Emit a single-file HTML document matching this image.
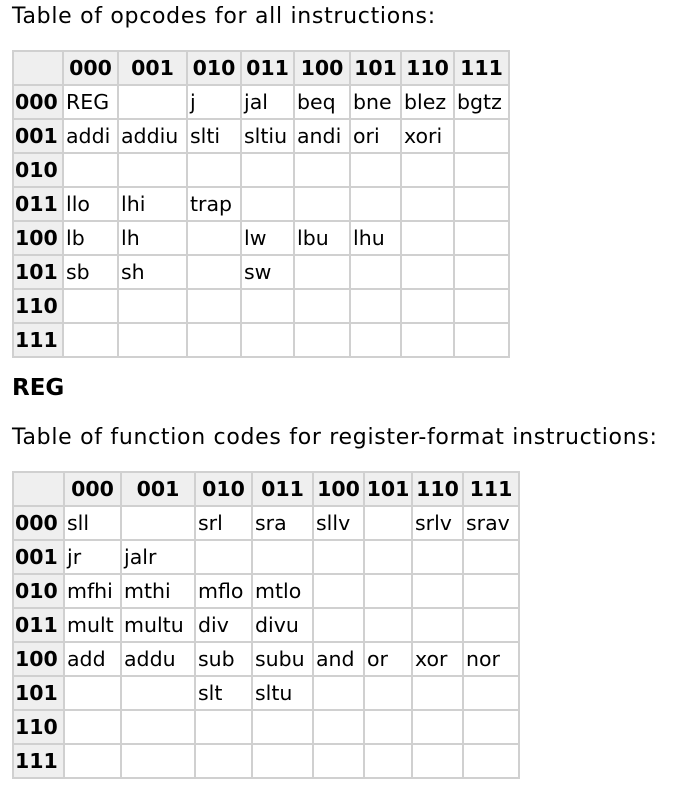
<!DOCTYPE html>
<html><head><style>
body{margin:0;background:#fff;font-family:"DejaVu Sans","Liberation Sans",sans-serif;color:#000;width:678px;height:790px;overflow:hidden;position:relative}
.t{position:absolute;left:12px;font-size:22px;letter-spacing:0.7px;white-space:nowrap}
table{position:absolute;left:12px;border-collapse:collapse;table-layout:fixed;font-size:20.5px}
td,th{border:2px solid #d0d0d0;height:32px;padding:0 0 0 2px;text-align:left;white-space:nowrap;overflow:hidden;line-height:32px}
th{background:#efefef;font-weight:bold;text-align:center;padding:0}
tr td:first-child,tr th:first-child{background:#efefef;font-weight:bold;padding-left:1px;text-align:left}
h2{position:absolute;left:12px;top:375px;margin:0;font-size:23px;font-weight:bold}
</style></head><body>
<div class="t" style="top:4px">Table of opcodes for all instructions:</div>
<table style="top:50px;width:496px">
<colgroup><col style="width:50px"><col style="width:55px"><col style="width:69px"><col style="width:54px"><col style="width:53px"><col style="width:56px"><col style="width:51px"><col style="width:53px"><col style="width:55px"></colgroup>
<tr><th></th><th>000</th><th>001</th><th>010</th><th>011</th><th>100</th><th>101</th><th>110</th><th>111</th></tr>
<tr><td>000</td><td>REG</td><td></td><td>j</td><td>jal</td><td>beq</td><td>bne</td><td>blez</td><td>bgtz</td></tr>
<tr><td>001</td><td>addi</td><td>addiu</td><td>slti</td><td>sltiu</td><td>andi</td><td>ori</td><td>xori</td><td></td></tr>
<tr><td>010</td><td></td><td></td><td></td><td></td><td></td><td></td><td></td><td></td></tr>
<tr><td>011</td><td>llo</td><td>lhi</td><td>trap</td><td></td><td></td><td></td><td></td><td></td></tr>
<tr><td>100</td><td>lb</td><td>lh</td><td></td><td>lw</td><td>lbu</td><td>lhu</td><td></td><td></td></tr>
<tr><td>101</td><td>sb</td><td>sh</td><td></td><td>sw</td><td></td><td></td><td></td><td></td></tr>
<tr><td>110</td><td></td><td></td><td></td><td></td><td></td><td></td><td></td><td></td></tr>
<tr><td>111</td><td></td><td></td><td></td><td></td><td></td><td></td><td></td><td></td></tr>
</table>
<h2>REG</h2>
<div class="t" style="top:425px">Table of function codes for register-format instructions:</div>
<table style="top:471px;width:506px">
<colgroup><col style="width:51px"><col style="width:57px"><col style="width:74px"><col style="width:57px"><col style="width:61px"><col style="width:51px"><col style="width:48px"><col style="width:51px"><col style="width:56px"></colgroup>
<tr><th></th><th>000</th><th>001</th><th>010</th><th>011</th><th>100</th><th>101</th><th>110</th><th>111</th></tr>
<tr><td>000</td><td>sll</td><td></td><td>srl</td><td>sra</td><td>sllv</td><td></td><td>srlv</td><td>srav</td></tr>
<tr><td>001</td><td>jr</td><td>jalr</td><td></td><td></td><td></td><td></td><td></td><td></td></tr>
<tr><td>010</td><td>mfhi</td><td>mthi</td><td>mflo</td><td>mtlo</td><td></td><td></td><td></td><td></td></tr>
<tr><td>011</td><td>mult</td><td>multu</td><td>div</td><td>divu</td><td></td><td></td><td></td><td></td></tr>
<tr><td>100</td><td>add</td><td>addu</td><td>sub</td><td>subu</td><td>and</td><td>or</td><td>xor</td><td>nor</td></tr>
<tr><td>101</td><td></td><td></td><td>slt</td><td>sltu</td><td></td><td></td><td></td><td></td></tr>
<tr><td>110</td><td></td><td></td><td></td><td></td><td></td><td></td><td></td><td></td></tr>
<tr><td>111</td><td></td><td></td><td></td><td></td><td></td><td></td><td></td><td></td></tr>
</table>
</body></html>
